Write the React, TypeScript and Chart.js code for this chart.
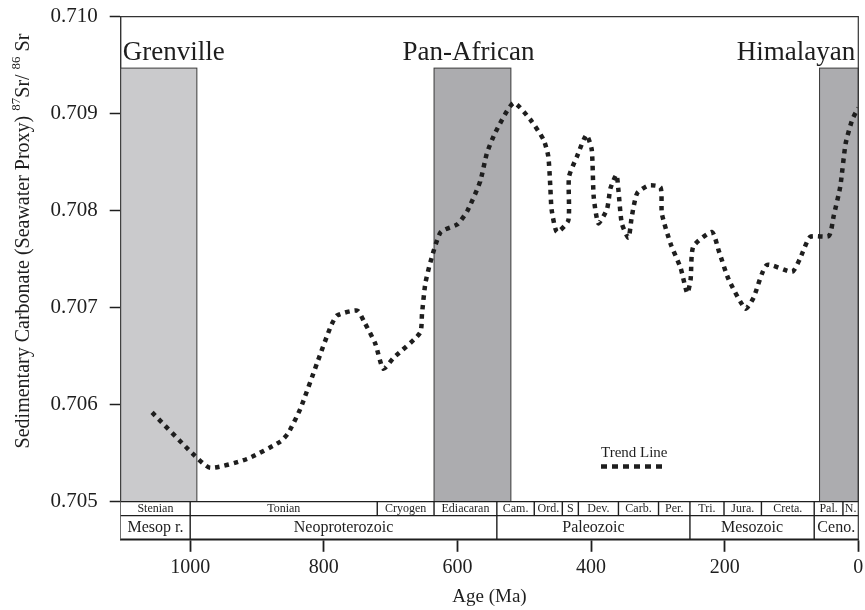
import React, { useEffect, useRef } from "react";
import { Chart, registerables } from "chart.js";

Chart.register(...registerables);

// ---- Data ----
const ages = [
  1057, 997, 970, 915, 865, 853, 835, 810, 790, 780, 750, 740, 723, 711, 696, 656, 653, 648,
  640, 625, 600, 585, 566, 556, 543, 516, 491, 471, 464, 461, 459, 451, 434, 433, 421, 407,
  399, 396, 389, 376, 371, 362, 359, 354, 344, 339, 331, 314, 296, 294, 281, 266, 256, 251,
  247, 219, 209, 194, 169, 157, 137, 99, 87, 72, 44, 37, 27, 19, 9, 0,
];
const srRatio = [
  0.70592, 0.7055, 0.70535, 0.70544, 0.70562, 0.70571, 0.70596, 0.70643, 0.7068, 0.70692,
  0.70697, 0.70686, 0.70663, 0.70637, 0.70648, 0.70674, 0.70694, 0.70725,
  0.70748, 0.70778, 0.70786, 0.708, 0.7083, 0.70859, 0.70881, 0.70911, 0.70894, 0.70873,
  0.70856, 0.70825, 0.70801, 0.70778, 0.7079, 0.70835, 0.70856, 0.70878,
  0.70863, 0.70814, 0.70787, 0.70802, 0.70823, 0.70837, 0.70821, 0.70787, 0.70772, 0.70794,
  0.70818, 0.70826, 0.70824, 0.70797, 0.70766, 0.70741, 0.70715, 0.70729,
  0.70763, 0.70778, 0.70759, 0.70729, 0.70699, 0.7071, 0.70744, 0.70737, 0.70751, 0.70773,
  0.70774, 0.70794, 0.70825, 0.70869, 0.70894, 0.70906,
];
const seriesLabel = "Trend Line";

const xTickValues = [1000, 800, 600, 400, 200, 0];
const yTickValues = [0.705, 0.706, 0.707, 0.708, 0.709, 0.71];
const xMaxAge = 1104;
const yMin = 0.704612;
const yMax = 0.71;

const orogenyNames = ["Grenville", "Pan-African", "Himalayan"];
const orogenyStart = [1104, 635, 58];
const orogenyEnd = [990, 520, 0];
const orogenyTop = 0.70947;
const orogenyColors = ["#cacacc", "#acacaf", "#acacaf"];

const periodNames = [
  "Stenian", "Tonian", "Cryogen", "Ediacaran", "Cam.", "Ord.", "S", "Dev.", "Carb.", "Per.",
  "Tri.", "Jura.", "Creta.", "Pal.", "N.",
];
const periodBounds = [1104, 1000, 720, 635, 541, 485, 443, 419, 359, 299, 252, 201, 145, 66, 23, 0];
const eraNames = ["Mesop r.", "Neoproterozoic", "Paleozoic", "Mesozoic", "Ceno."];
const eraBounds = [1104, 1000, 541, 252, 66, 0];

const xTitle = "Age (Ma)";
const yTitleParts = [
  { t: "Sedimentary Carbonate (Seawater Proxy) ", sup: false },
  { t: "87", sup: true },
  { t: "Sr/ ", sup: false },
  { t: "86", sup: true },
  { t: " Sr", sup: false },
];

const FONT = '"Liberation Serif", "Times New Roman", serif';
const INK = "#1e1e1e";
const LINE_DASH = [4.5, 5];

const overlayPlugin = {
  id: "overlay",
  beforeDatasetsDraw(chart: any) {
    const { ctx, chartArea: a } = chart;
    const x = chart.scales.x;
    const y = chart.scales.y;
    ctx.save();
    const yTop = y.getPixelForValue(orogenyTop);
    const yBot = y.getPixelForValue(yTickValues[0]);
    for (let i = 0; i < orogenyNames.length; i++) {
      const x0 = x.getPixelForValue(orogenyStart[i]);
      const x1 = x.getPixelForValue(orogenyEnd[i]);
      ctx.fillStyle = orogenyColors[i];
      ctx.fillRect(x0, yTop, x1 - x0, yBot - yTop);
      ctx.strokeStyle = "#3a3a3a";
      ctx.lineWidth = 1;
      ctx.strokeRect(x0, yTop, x1 - x0, yBot - yTop);
    }
    // orogeny labels
    ctx.fillStyle = INK;
    ctx.font = `27px ${FONT}`;
    ctx.textBaseline = "alphabetic";
    const base = 60;
    ctx.textAlign = "left";
    ctx.fillText(orogenyNames[0], a.left + 2, base);
    ctx.textAlign = "center";
    const pc = (x.getPixelForValue(orogenyStart[1]) + x.getPixelForValue(orogenyEnd[1])) / 2;
    ctx.fillText(orogenyNames[1], pc - 4, base);
    ctx.textAlign = "right";
    ctx.fillText(orogenyNames[2], a.right - 3, base);
    ctx.restore();
  },
  afterDatasetsDraw(chart: any) {
    const { ctx, chartArea: a } = chart;
    const x = chart.scales.x;
    const y = chart.scales.y;
    ctx.save();
    // timescale
    const t0 = y.getPixelForValue(yTickValues[0]);
    const t1 = t0 + 14;
    const t2 = a.bottom;
    ctx.fillStyle = "#ffffff";
    ctx.fillRect(a.left, t0, a.right - a.left, t2 - t0);
    ctx.strokeStyle = INK;
    ctx.lineWidth = 1.4;
    ctx.beginPath();
    ctx.moveTo(a.left, t0);
    ctx.lineTo(a.right, t0);
    ctx.moveTo(a.left, t1);
    ctx.lineTo(a.right, t1);
    ctx.moveTo(a.left, t2);
    ctx.lineTo(a.right, t2);
    for (let i = 1; i < periodBounds.length - 1; i++) {
      const px = x.getPixelForValue(periodBounds[i]);
      ctx.moveTo(px, t0);
      ctx.lineTo(px, t1);
    }
    for (let i = 1; i < eraBounds.length - 1; i++) {
      const px = x.getPixelForValue(eraBounds[i]);
      ctx.moveTo(px, t1);
      ctx.lineTo(px, t2);
    }
    ctx.stroke();
    ctx.beginPath();
    ctx.rect(a.left, t0, a.right - a.left, t2 - t0);
    ctx.clip();
    ctx.fillStyle = INK;
    ctx.textAlign = "center";
    ctx.textBaseline = "middle";
    ctx.font = `12px ${FONT}`;
    for (let i = 0; i < periodNames.length; i++) {
      const c = (x.getPixelForValue(periodBounds[i]) + x.getPixelForValue(periodBounds[i + 1])) / 2;
      ctx.fillText(periodNames[i], c, (t0 + t1) / 2 + 0.5);
    }
    ctx.font = `16px ${FONT}`;
    for (let i = 0; i < eraNames.length; i++) {
      const c = (x.getPixelForValue(eraBounds[i]) + x.getPixelForValue(eraBounds[i + 1])) / 2;
      ctx.fillText(eraNames[i], c, (t1 + t2) / 2 + 0.5);
    }
    ctx.restore();

    ctx.save();
    // frame
    ctx.strokeStyle = "#333";
    ctx.lineWidth = 1.2;
    ctx.beginPath();
    ctx.moveTo(a.left, a.top);
    ctx.lineTo(a.right, a.top);
    ctx.lineTo(a.right, a.bottom);
    ctx.stroke();

    // legend
    ctx.fillStyle = INK;
    ctx.font = `15px ${FONT}`;
    ctx.textAlign = "left";
    ctx.textBaseline = "alphabetic";
    ctx.fillText(seriesLabel, 601, 457);
    ctx.strokeStyle = INK;
    ctx.lineWidth = 4.5;
    ctx.setLineDash([6, 5]);
    ctx.beginPath();
    ctx.moveTo(601, 466.5);
    ctx.lineTo(666, 466.5);
    ctx.stroke();
    ctx.setLineDash([]);

    // x title
    ctx.font = `19px ${FONT}`;
    ctx.textAlign = "center";
    ctx.textBaseline = "middle";
    ctx.fillText(xTitle, (a.left + a.right) / 2, 597);

    // y title with superscripts
    const mainFont = `20px ${FONT}`;
    const supFont = `13px ${FONT}`;
    let total = 0;
    const widths = yTitleParts.map((p) => {
      ctx.font = p.sup ? supFont : mainFont;
      const w = ctx.measureText(p.t).width;
      total += w;
      return w;
    });
    ctx.translate(24, 241);
    ctx.rotate(-Math.PI / 2);
    ctx.textAlign = "left";
    ctx.textBaseline = "middle";
    let cx = -total / 2;
    yTitleParts.forEach((p, i) => {
      ctx.font = p.sup ? supFont : mainFont;
      ctx.fillText(p.t, cx, p.sup ? -7 : 0);
      cx += widths[i];
    });
    ctx.restore();
  },
};

export default function App() {
  const canvasRef = useRef<HTMLCanvasElement | null>(null);

  useEffect(() => {
    const canvas = canvasRef.current;
    if (!canvas) return;
    const chart = new Chart(canvas, {
      type: "line",
      data: {
        datasets: [
          {
            label: seriesLabel,
            data: ages.map((a, i) => ({ x: a, y: srRatio[i] })),
            borderColor: INK,
            borderWidth: 4.5,
            borderDash: LINE_DASH,
            borderCapStyle: "butt",
            pointRadius: 0,
            fill: false,
            tension: 0.2,
          },
        ],
      },
      options: {
        responsive: false,
        animation: false,
        devicePixelRatio: 1,
        layout: { padding: { left: 0, right: 6.7, top: 16.7, bottom: 0 } },
        plugins: { legend: { display: false }, tooltip: { enabled: false }, title: { display: false } },
        scales: {
          x: {
            type: "linear",
            reverse: true,
            min: 0,
            max: xMaxAge,
            afterBuildTicks: (scale: any) => {
              scale.ticks = xTickValues.map((v) => ({ value: v }));
            },
            afterFit: (scale: any) => {
              scale.height = 70.7;
              scale.paddingLeft = 0;
              scale.paddingRight = 0;
            },
            grid: {
              drawOnChartArea: false,
              drawTicks: true,
              tickLength: 12.5,
              tickColor: INK,
              tickWidth: 1.8,
            },
            border: { display: true, color: INK, width: 1.4 },
            ticks: {
              color: INK,
              font: { family: FONT, size: 20 },
              padding: 4,
              maxRotation: 0,
              autoSkip: false,
              callback: (v: any) => String(v),
            },
          },
          y: {
            type: "linear",
            min: yMin,
            max: yMax,
            afterBuildTicks: (scale: any) => {
              scale.ticks = yTickValues.map((v) => ({ value: v }));
            },
            afterFit: (scale: any) => {
              scale.width = 120.7;
              scale.paddingTop = 0;
              scale.paddingBottom = 0;
            },
            grid: {
              drawOnChartArea: false,
              drawTicks: true,
              tickLength: 11,
              tickColor: INK,
              tickWidth: 1.5,
            },
            border: { display: true, color: "#333", width: 1.4 },
            ticks: {
              color: INK,
              font: { family: FONT, size: 21 },
              padding: 12,
              callback: (v: any) => Number(v).toFixed(3),
            },
          },
        },
      },
      plugins: [overlayPlugin],
    } as any);
    return () => chart.destroy();
  }, []);

  return (
    <div style={{ position: "absolute", left: 0, top: 0, width: 865, height: 610, background: "#fff" }}>
      <canvas ref={canvasRef} width={865} height={610} style={{ width: 865, height: 610, display: "block" }} />
    </div>
  );
}
